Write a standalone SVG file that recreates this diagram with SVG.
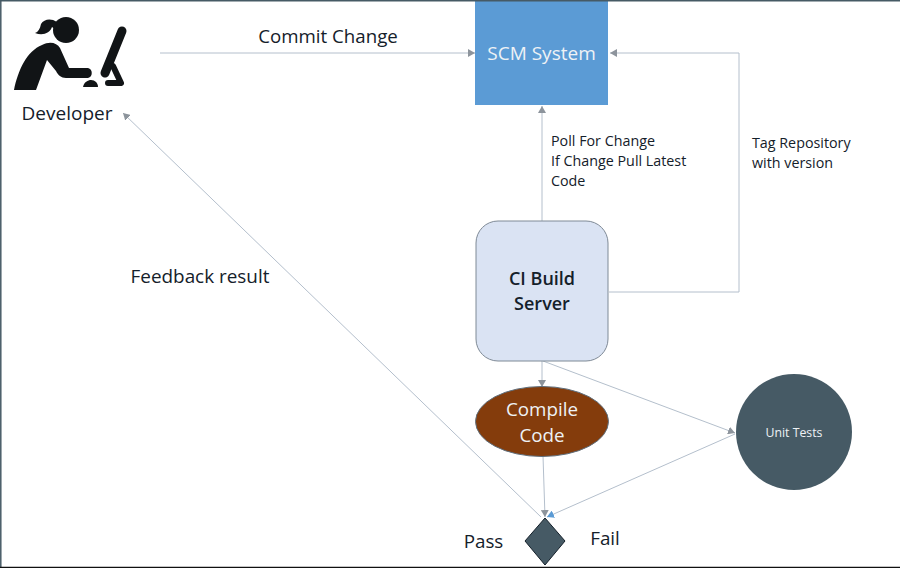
<svg xmlns="http://www.w3.org/2000/svg" width="900" height="568" viewBox="0 0 900 568">
<style>
text{font-family:"Open Sans","Noto Sans","Liberation Sans",sans-serif;fill:#14202a}
.w{fill:#eef2f5}
.c{fill:none;stroke:#b4bfcc;stroke-width:1}
.m{text-anchor:middle}
</style>
<defs>
<marker id="a" markerUnits="userSpaceOnUse" markerWidth="8" markerHeight="8" refX="7" refY="4" orient="auto"><path d="M0 0L7 4L0 8Z" fill="#8d949c"/></marker>
<marker id="b" markerUnits="userSpaceOnUse" markerWidth="8" markerHeight="8" refX="7" refY="4" orient="auto"><path d="M0 0L7 4L0 8Z" fill="#5b9bd5"/></marker>
</defs>
<rect width="900" height="568" fill="#fff"/>
<g id="connectors">
<path class="c" d="M160 53H475" marker-end="url(#a)"/>
<path class="c" d="M542 221V106" marker-end="url(#a)"/>
<path class="c" d="M609 292H739V53H610" marker-end="url(#a)"/>
<path class="c" d="M542 361V387" marker-end="url(#a)"/>
<path class="c" d="M543 361L735 433" marker-end="url(#a)"/>
<path class="c" d="M543 456L545 517" marker-end="url(#a)"/>
<path class="c" d="M735 434L547 517" marker-end="url(#b)"/>
<path class="c" d="M541 517L123 113" marker-end="url(#a)"/>
</g>
<g id="developer">
<g fill="#111416">
<circle cx="66" cy="30" r="13"/>
<path d="M57 22C51 18 44 19 41 24C40 29 38 32 35 33C43 36 50 33 52 27L56 30Z"/>
<path d="M14 90C18 70 27 51 42 45C50 41 57 43 60 48L69 68H88C93 69 93 77 88 78H66C61 78 58 75 56 71L47 60L36 90Z"/>
<path d="M83 87C84 82 88 80 91 80C95 80 98 83 98 87Z"/>
</g>
<g fill="none" stroke="#111416" stroke-linecap="round">
<path d="M122 31L105 73" stroke-width="9"/>
<path d="M113 66L121 83H108" stroke-width="6" stroke-linejoin="round"/>
</g>
<text x="67" y="120" class="m" font-size="19">Developer</text>
</g>
<text x="328" y="43" class="m" font-size="18.700">Commit Change</text>
<g id="scm">
<rect x="475" y="0" width="133" height="105" fill="#5b9bd5"/>
<text x="541.500" y="60" class="m w" font-size="19">SCM System</text>
</g>
<g font-size="14.300">
<text x="551" y="146">Poll For Change</text>
<text x="551" y="166">If Change Pull Latest</text>
<text x="551" y="186">Code</text>
<text x="752" y="148">Tag Repository</text>
<text x="752" y="168">with version</text>
</g>
<text x="200" y="283" class="m" font-size="18.900">Feedback result</text>
<g id="ci">
<rect x="476" y="221" width="132" height="140" rx="22" fill="#dae3f3" stroke="#7f8a96" stroke-width="1"/>
<text x="542" y="285" class="m" font-size="18" font-weight="600">CI Build</text>
<text x="542" y="310" class="m" font-size="18" font-weight="600">Server</text>
</g>
<g id="compile">
<ellipse cx="542" cy="421.500" rx="66.500" ry="35" fill="#843c0c" stroke="#5f6f7d" stroke-width="1"/>
<text x="542" y="416" class="m w" font-size="18.800">Compile</text>
<text x="542" y="442" class="m w" font-size="18.800">Code</text>
</g>
<g id="unit">
<circle cx="794" cy="432" r="58" fill="#465a65"/>
<text x="794" y="437" class="m w" font-size="12.300">Unit Tests</text>
</g>
<g id="decision">
<path d="M545 518L565 541L545 565L525 541Z" fill="#465a65" stroke="#14202a" stroke-width="1"/>
</g>
<text x="483.500" y="548" class="m" font-size="18.800">Pass</text>
<text x="605" y="545" class="m" font-size="18.800">Fail</text>
<path d="M0 .8H900" stroke="#465a65" stroke-width="1.500" fill="none"/>
<path d="M.8 0V567" stroke="#465a65" stroke-width="1.500" fill="none"/>
<path d="M0 567.500H900" stroke="#111" stroke-width="1.500" fill="none"/>
</svg>
